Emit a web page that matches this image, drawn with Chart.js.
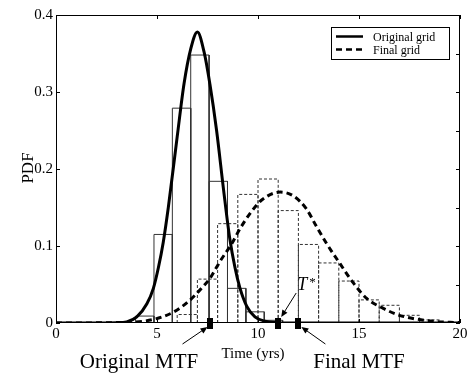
<!DOCTYPE html>
<html><head><meta charset="utf-8">
<script src="https://cdn.jsdelivr.net/npm/chart.js@4/dist/chart.umd.min.js"></script>
<style>html,body{margin:0;padding:0;background:#fff}canvas{display:block}</style>
</head><body>
<canvas id="c" width="472" height="374"></canvas>
<script>
// ---- data ----
const solidBinEdges = [3.94, 4.85, 5.76, 6.67, 7.58, 8.49, 9.40, 10.31, 11.22];
const solidBinHeights = [0.009, 0.115, 0.279, 0.348, 0.184, 0.045, 0.0145, 0.0035];
const dashedBinEdges = [6, 7, 8, 9, 10, 11, 12, 13, 14, 15, 16, 17, 18, 19];
const dashedBinHeights = [0.011, 0.057, 0.129, 0.167, 0.187, 0.146, 0.102, 0.078, 0.0545, 0.030, 0.023, 0.010, 0.004];

const originalCurveX = [0, 2, 3, 3.5, 4, 4.5, 4.82, 5.07, 5.31, 5.56, 6.0, 6.34, 6.67, 7.0, 7.33, 7.62, 7.95, 8.3, 8.6, 8.86, 9.1, 9.44, 9.85, 10.35, 10.9, 11.5, 20];
const originalCurveY = [0, 0, 0.0003, 0.0015, 0.008, 0.025, 0.045, 0.072, 0.105, 0.150, 0.242, 0.311, 0.356, 0.378, 0.352, 0.310, 0.250, 0.172, 0.110, 0.072, 0.046, 0.022, 0.008, 0.0022, 0.0004, 0, 0];
const finalCurveX = [0, 3.5, 4.8, 5.8, 6.6, 7.13, 7.62, 8.12, 8.7, 9.1, 9.6, 10.2, 11.1, 11.75, 12.4, 12.9, 13.4, 14.06, 14.72, 15.38, 16.2, 17.0, 17.86, 18.68, 19.5, 20];
const finalCurveY = [0, 0.0008, 0.0045, 0.014, 0.029, 0.043, 0.058, 0.08, 0.103, 0.122, 0.142, 0.160, 0.170, 0.165, 0.148, 0.125, 0.103, 0.077, 0.052, 0.032, 0.019, 0.010, 0.005, 0.0022, 0.001, 0.0005];

const mtfMarkers = [7.6, 11.0, 12.0]; // original MTF, T*, final MTF

const xTickValues = [0, 5, 10, 15, 20];
const xTickLabels = ['0', '5', '10', '15', '20'];
const yTickValues = [0, 0.1, 0.2, 0.3, 0.4];
const yTickLabels = ['0', '0.1', '0.2', '0.3', '0.4'];
const rightTickValues = [0, 0.05, 0.1, 0.15, 0.2, 0.25, 0.3, 0.35, 0.4];

const legendLabels = ['Original grid', 'Final grid'];
const annotationLabels = { original: 'Original MTF', final: 'Final MTF', tstar: 'T', star: '*' };
const axisTitles = { x: 'Time (yrs)', y: 'PDF' };

// ---- helpers building library data from the arrays ----
function histogramOutline(edges, heights) {
  const pts = [];
  for (let i = 0; i < heights.length; i++) {
    pts.push({x: edges[i], y: 0}, {x: edges[i], y: heights[i]},
             {x: edges[i + 1], y: heights[i]}, {x: edges[i + 1], y: 0},
             {x: edges[i + 1], y: null});
  }
  return pts;
}
function zipXY(xs, ys) { return xs.map((x, i) => ({x, y: ys[i]})); }

const FONT = "'Liberation Serif', 'Times New Roman', serif";

const markerImg = document.createElement('canvas');
markerImg.width = 6; markerImg.height = 11;
(function(){ const g = markerImg.getContext('2d'); g.fillStyle = '#000'; g.fillRect(0, 0, 6, 11); })();

function drawArrow(ctx, x1, y1, x2, y2) {
  const ang = Math.atan2(y2 - y1, x2 - x1), L = 7, W = 3;
  ctx.beginPath(); ctx.moveTo(x1, y1);
  ctx.lineTo(x2 - Math.cos(ang) * L * 0.8, y2 - Math.sin(ang) * L * 0.8); ctx.stroke();
  ctx.beginPath();
  ctx.moveTo(x2, y2);
  ctx.lineTo(x2 - Math.cos(ang) * L - Math.sin(ang) * W, y2 - Math.sin(ang) * L + Math.cos(ang) * W);
  ctx.lineTo(x2 - Math.cos(ang) * L + Math.sin(ang) * W, y2 - Math.sin(ang) * L - Math.cos(ang) * W);
  ctx.closePath(); ctx.fill();
}

const overlay = {
  id: 'overlay',
  afterDraw(chart) {
    const ctx = chart.ctx, xs = chart.scales.x, ys = chart.scales.y, a = chart.chartArea;
    ctx.save();
    ctx.strokeStyle = '#000'; ctx.fillStyle = '#000'; ctx.lineWidth = 1; ctx.setLineDash([]);
    // frame
    ctx.strokeRect(Math.round(a.left) + 0.5, Math.round(a.top) + 0.5, Math.round(a.right - a.left) - 1, Math.round(a.bottom - a.top) - 1);
    // inward ticks
    ctx.beginPath();
    xTickValues.forEach(v => {
      const p = Math.round(xs.getPixelForValue(v)) + 0.5;
      ctx.moveTo(p, a.bottom); ctx.lineTo(p, a.bottom - 4);
      ctx.moveTo(p, a.top); ctx.lineTo(p, a.top + 4);
    });
    yTickValues.forEach(v => {
      const p = Math.round(ys.getPixelForValue(v)) + 0.5;
      ctx.moveTo(a.left, p); ctx.lineTo(a.left + 4, p);
    });
    rightTickValues.forEach(v => {
      const p = Math.round(ys.getPixelForValue(v)) + 0.5;
      ctx.moveTo(a.right, p); ctx.lineTo(a.right - 4, p);
    });
    ctx.stroke();

    // axis titles
    ctx.textAlign = 'center'; ctx.textBaseline = 'alphabetic';
    ctx.font = '15px ' + FONT;
    ctx.fillText(axisTitles.x, 253, 358);
    ctx.save();
    ctx.translate(33, 168); ctx.rotate(-Math.PI / 2);
    ctx.font = '17px ' + FONT;
    ctx.fillText(axisTitles.y, 0, 0);
    ctx.restore();

    // legend
    const lx = 331.5, ly = 27.5, lw = 118, lh = 32;
    ctx.fillStyle = '#fff'; ctx.fillRect(lx, ly, lw, lh);
    ctx.strokeStyle = '#000'; ctx.lineWidth = 1; ctx.strokeRect(lx, ly, lw, lh);
    ctx.lineWidth = 2.5;
    ctx.beginPath(); ctx.moveTo(336, 36.5); ctx.lineTo(363, 36.5); ctx.stroke();
    ctx.setLineDash([6, 4]);
    ctx.beginPath(); ctx.moveTo(336, 49.5); ctx.lineTo(363, 49.5); ctx.stroke();
    ctx.setLineDash([]);
    ctx.fillStyle = '#000'; ctx.textAlign = 'left';
    ctx.font = '12px ' + FONT;
    ctx.fillText(legendLabels[0], 373, 40.5);
    ctx.fillText(legendLabels[1], 373, 53.5);

    // annotations
    const y0 = ys.getPixelForValue(0);
    const mo = xs.getPixelForValue(mtfMarkers[0]);
    const mt = xs.getPixelForValue(mtfMarkers[1]);
    const mf = xs.getPixelForValue(mtfMarkers[2]);
    ctx.lineWidth = 1;
    drawArrow(ctx, mo - 27, y0 + 21, mo - 2, y0 + 4);
    drawArrow(ctx, mf + 27, y0 + 21, mf + 3, y0 + 4);
    drawArrow(ctx, mt + 18, y0 - 30, mt + 3, y0 - 6);
    ctx.textAlign = 'center';
    ctx.font = '21px ' + FONT;
    ctx.fillText(annotationLabels.original, 139, 368);
    ctx.fillText(annotationLabels.final, 359, 368);
    ctx.textAlign = 'left';
    ctx.font = 'italic 18px ' + FONT;
    ctx.fillText(annotationLabels.tstar, mt + 19, y0 - 33);
    ctx.font = '13px ' + FONT;
    ctx.fillText(annotationLabels.star, mt + 31, y0 - 37);
    ctx.restore();
  }
};

new Chart(document.getElementById('c'), {
  type: 'line',
  data: {
    datasets: [
      { label: legendLabels[0], data: zipXY(originalCurveX, originalCurveY), borderColor: '#000', borderWidth: 3,
        pointRadius: 0, cubicInterpolationMode: 'monotone', fill: false, order: 1 },
      { label: legendLabels[1], data: zipXY(finalCurveX, finalCurveY), borderColor: '#000', borderWidth: 3,
        borderDash: [6, 4], pointRadius: 0, cubicInterpolationMode: 'monotone', fill: false, order: 1 },
      { type: 'scatter', label: 'MTF', data: mtfMarkers.map(x => ({x, y: 0})), pointStyle: markerImg,
        pointRadius: 5, clip: false, order: 0 },
      { label: 'Original histogram', data: histogramOutline(solidBinEdges, solidBinHeights), borderColor: '#333',
        borderWidth: 1, pointRadius: 0, tension: 0, spanGaps: false, fill: false, order: 2 },
      { label: 'Final histogram', data: histogramOutline(dashedBinEdges, dashedBinHeights), borderColor: '#333',
        borderWidth: 1, borderDash: [3, 2], pointRadius: 0, tension: 0, spanGaps: false, fill: false, order: 2 }
    ]
  },
  options: {
    responsive: false, animation: false, devicePixelRatio: 1,
    layout: { padding: { top: 15, right: 12, left: 0, bottom: 0 } },
    plugins: { legend: { display: false }, tooltip: { enabled: false } },
    scales: {
      x: { type: 'linear', min: 0, max: 20,
        afterFit: s => { s.height = 51; },
        afterBuildTicks: s => { s.ticks = xTickValues.map(v => ({value: v})); },
        ticks: { padding: 2, color: '#000', font: { family: FONT, size: 15 }, maxRotation: 0,
          callback: (v, i) => xTickLabels[i] },
        grid: { display: false, drawTicks: false }, border: { display: false } },
      y: { type: 'linear', min: 0, max: 0.4,
        afterFit: s => { s.width = 56; },
        afterBuildTicks: s => { s.ticks = yTickValues.map(v => ({value: v})); },
        ticks: { padding: 3, color: '#000', font: { family: FONT, size: 15 },
          callback: (v, i) => yTickLabels[i] },
        grid: { display: false, drawTicks: false }, border: { display: false } }
    }
  },
  plugins: [overlay]
});
</script>
</body></html>
